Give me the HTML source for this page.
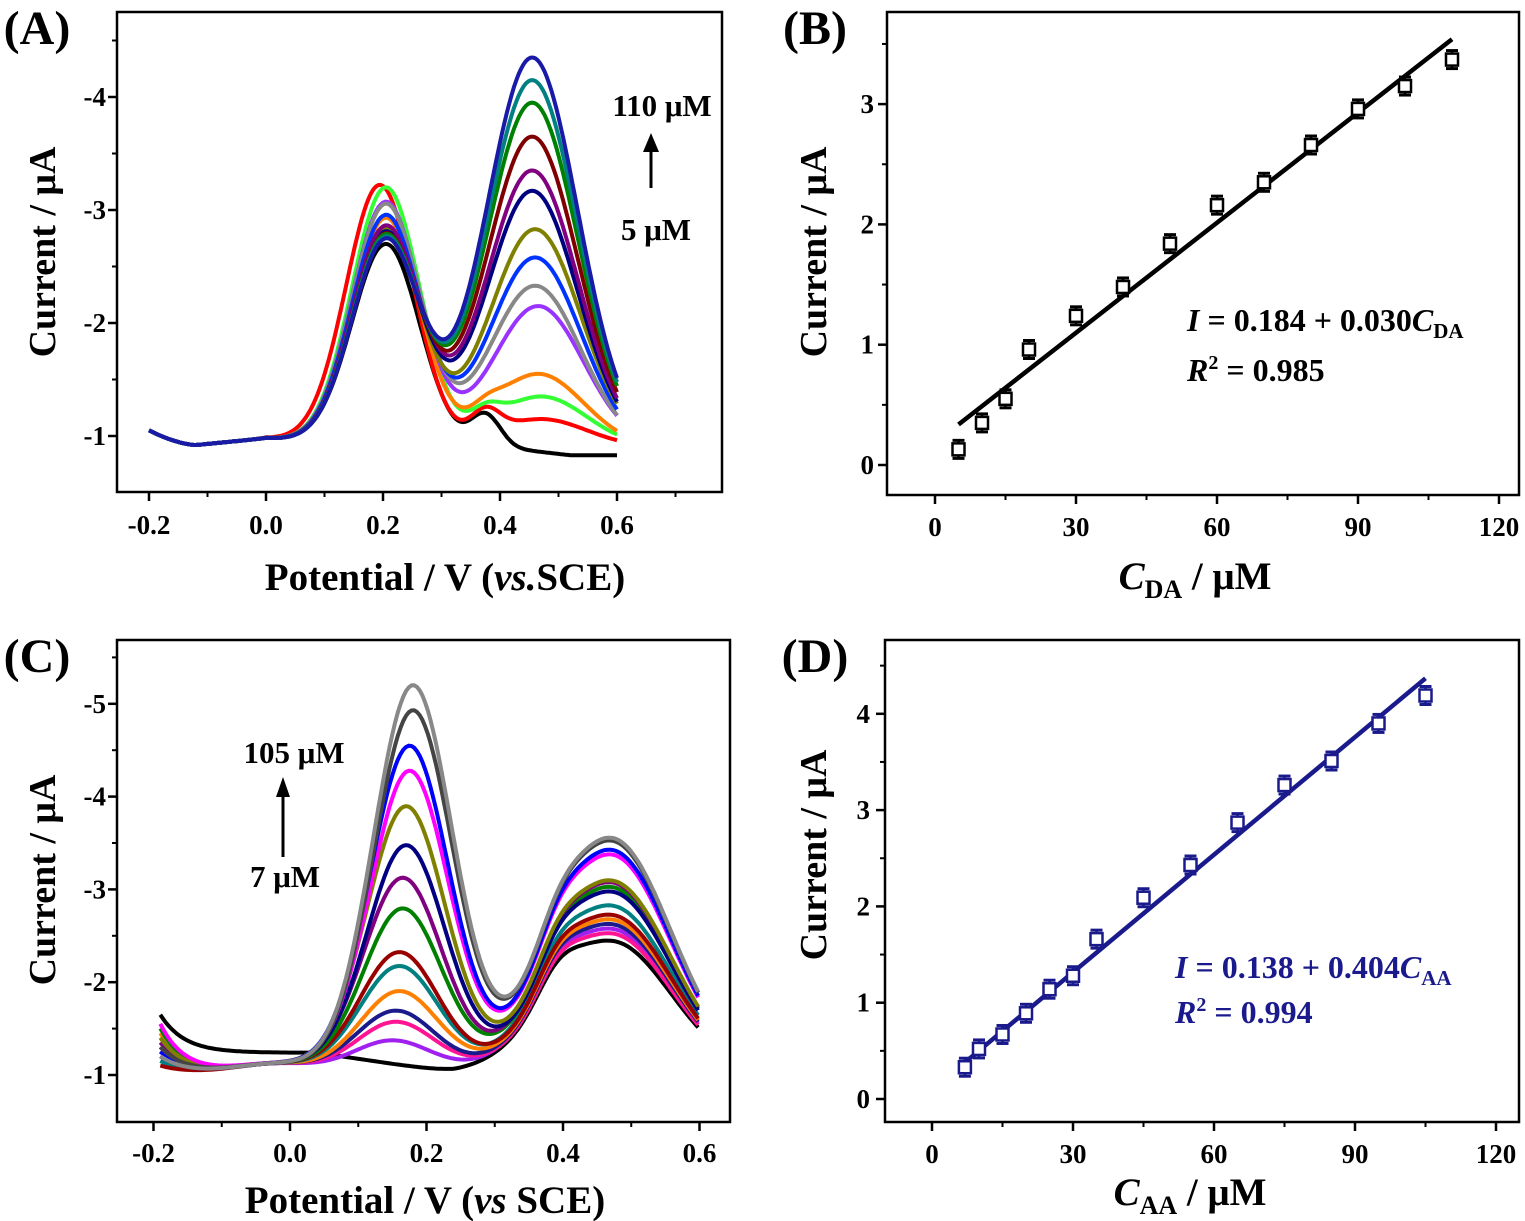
<!DOCTYPE html>
<html><head><meta charset="utf-8"><style>
body{margin:0;background:#fff}
svg{display:block;font-family:"Liberation Serif",serif;font-weight:bold}
</style></head><body>
<svg id="fig" width="1525" height="1221" viewBox="0 0 1525 1221">
<g id="gA"></g>
<g id="gB"></g>
<g id="gC"></g>
<g id="gD"></g>
</svg>
<script>
// ---------- Panel A data (DPV, DA) ----------
const aColors=["#000000","#ff0000","#33ff33","#ff8000","#9933ff","#888888","#0033ff","#808000","#000080","#800080","#800000","#008000","#008080","#1a1aa8"];
const aPeak1=[2.75,3.27,3.25,2.98,3.12,3.1,3.0,2.88,2.85,2.9,2.83,2.82,2.8,2.78];
const aPeak2=[0.9,1.15,1.35,1.55,2.15,2.33,2.58,2.83,3.17,3.35,3.65,3.95,4.15,4.35];
const aPos2=[0.47,0.47,0.47,0.465,0.465,0.46,0.46,0.46,0.455,0.455,0.455,0.455,0.455,0.455];
const aShoulder=[0.28,0.22,0.15,0.1,0,0,0,0,0,0,0,0,0,0];
const aTicksX=["-0.2","0.0","0.2","0.4","0.6"];
const aTicksY=["-1","-2","-3","-4"];
// ---------- Panel B data ----------
const bConc=[5,10,15,20,30,40,50,60,70,80,90,100,110];
const bCurr=[0.13,0.35,0.55,0.96,1.24,1.48,1.84,2.16,2.35,2.66,2.96,3.15,3.37];
const bFit=[0.184,0.0305];
const bTicksX=["0","30","60","90","120"];
const bTicksY=["0","1","2","3"];
// ---------- Panel C data (DPV, AA) ----------
const cColors=["#000000","#a020f0","#ff1493","#1a1a8c","#ff8000","#008080","#990000","#008000","#800080","#000080","#808000","#ff00ff","#0000ff","#444444","#888888"];
const cPeak1=[1.05,1.4,1.6,1.72,1.93,2.2,2.35,2.82,3.15,3.5,3.92,4.3,4.57,4.95,5.22];
const cPos1=[0.17,0.15,0.155,0.155,0.16,0.16,0.16,0.165,0.165,0.17,0.17,0.175,0.175,0.18,0.18];
const cPeak2=[2.47,2.6,2.55,2.65,2.7,2.85,2.75,3.05,3.1,3.0,3.12,3.4,3.45,3.55,3.58];
const cStart=[1.43,1.3,1.25,1.2,1.45,1.15,1.1,1.5,1.35,1.2,1.4,1.55,1.25,1.3,1.2];
const cTicksX=["-0.2","0.0","0.2","0.4","0.6"];
const cTicksY=["-1","-2","-3","-4","-5"];
// ---------- Panel D data ----------
const dConc=[7,10,15,20,25,30,35,45,55,65,75,85,95,105];
const dCurr=[0.33,0.52,0.67,0.89,1.14,1.28,1.66,2.09,2.43,2.87,3.26,3.51,3.9,4.19];
const dFit=[0.095,0.0407];
const dTicksX=["0","30","60","90","120"];
const dTicksY=["0","1","2","3","4"];

const NS="http://www.w3.org/2000/svg";
function mk(parent,tag,attrs,name){const e=document.createElementNS(NS,tag);for(const k in attrs)e.setAttribute(k,attrs[k]);


parent.appendChild(e);return e;}
function txt(parent,x,y,s,size,name,anchor,extra){const t=mk(parent,'text',Object.assign({x:x,y:y,'font-size':size,'text-anchor':anchor||'middle'},extra||{}),name);t.innerHTML=s;return t;}

function frame(g,L,T,R,B,xs,xl,ys,yl,xv,yv,xmin,ymin,tl,ty){
  mk(g,'rect',{x:L,y:T,width:R-L,height:B-T,fill:'none',stroke:'#000','stroke-width':2.5},'plot-frame');
  xv.forEach((v,i)=>{const x=xs(v);mk(g,'line',{x1:x,x2:x,y1:B,y2:B+9,stroke:'#000','stroke-width':2.5},'x-tick');
    txt(g,x,ty,xl[i],27,'x-tick-label');});
  xmin.forEach(v=>{const x=xs(v);mk(g,'line',{x1:x,x2:x,y1:B,y2:B+5,stroke:'#000','stroke-width':2},'x-minor-tick');});
  yv.forEach((v,i)=>{const y=ys(v);mk(g,'line',{x1:L-9,x2:L,y1:y,y2:y,stroke:'#000','stroke-width':2.5},'y-tick');
    txt(g,tl,y+9,yl[i],27,'y-tick-label','end');});
  ymin.forEach(v=>{const y=ys(v);mk(g,'line',{x1:L-5,x2:L,y1:y,y2:y,stroke:'#000','stroke-width':2},'y-minor-tick');});
}
const gauss=(E,m,s)=>Math.exp(-((E-m)*(E-m))/(2*s*s));

// ---------- Panel A ----------
(function(){
const g=document.getElementById('gA');
const xs=E=>266+E*585, ys=v=>436-(v-1)*113;
txt(g,37,44,'(A)',48,'panel-label-a');
frame(g,117,12,722,492,xs,aTicksX,ys,aTicksY,[-0.2,0,0.2,0.4,0.6],[1,2,3,4],[-0.1,0.1,0.3,0.5,0.7],[1.5,2.5,3.5,4.5],106,534);
function base(E){if(E<-0.12)return 0.92+0.13*((-0.12-E)/0.08)**1.6; if(E<0)return 0.92+0.06*(E+0.12)/0.12; return 0.98-0.08*Math.min(1,E/0.2);}
aColors.forEach((c,i)=>{let d='';
  for(let E=-0.2;E<=0.6001;E+=0.004){const b=base(E);
    const v=b+(aPeak1[i]-0.95)*gauss(E,0.2+(i==1?-0.005:0.005),0.058)+(aPeak2[i]-0.9)*gauss(E,aPos2[i],0.078)+aShoulder[i]*gauss(E,0.375,0.025)+(i==0?-0.07*Math.min(1,Math.max(0,(E-0.4)/0.12)):0);
    d+=(d?'L':'M')+xs(E).toFixed(1)+','+ys(v).toFixed(1);}
  mk(g,'path',{d:d,fill:'none',stroke:c,'stroke-width':4},'dpv-curve-a-'+i);
});
txt(g,662,116,'110 μM',31,'annotation-high');
txt(g,656,240,'5 μM',31,'annotation-low');
mk(g,'line',{x1:651,y1:188,x2:651,y2:150,stroke:'#000','stroke-width':3},'arrow-shaft');
mk(g,'path',{d:'M643,152 L651,133 L659,152 Z',fill:'#000'},'arrow-head');
txt(g,445,590,'Potential / V (<tspan font-style="italic">vs.</tspan>SCE)',39,'x-axis-title');
const yt=txt(g,0,0,'Current / μA',38,'y-axis-title');yt.setAttribute('transform','translate(55,252) rotate(-90)');
})();

// ---------- Panel B ----------
(function(){
const g=document.getElementById('gB');
const xs=c=>935+c*4.7, ys=v=>465-v*120.3;
txt(g,815,44,'(B)',48,'panel-label-b');
frame(g,887,12,1519,495,xs,bTicksX,ys,bTicksY,[0,30,60,90,120],[0,1,2,3],[15,45,75,105],[0.5,1.5,2.5,3.5],874,536);
mk(g,'line',{x1:xs(5),y1:ys(bFit[0]+bFit[1]*5),x2:xs(110),y2:ys(bFit[0]+bFit[1]*110),stroke:'#000','stroke-width':4.5},'fit-line');
bConc.forEach((c,i)=>{const x=xs(c),y=ys(bCurr[i]);
  mk(g,'line',{x1:x,x2:x,y1:y-9,y2:y+9,stroke:'#000','stroke-width':2.5},'error-bar');
  mk(g,'line',{x1:x-6,x2:x+6,y1:y-9,y2:y-9,stroke:'#000','stroke-width':3},'error-cap');
  mk(g,'line',{x1:x-6,x2:x+6,y1:y+9,y2:y+9,stroke:'#000','stroke-width':3},'error-cap');
  mk(g,'rect',{x:x-6,y:y-6,width:12,height:12,fill:'#fff',stroke:'#000','stroke-width':2.5},'data-point');});
txt(g,1187,331,'<tspan font-style="italic">I</tspan> = 0.184 + 0.030<tspan font-style="italic">C</tspan><tspan font-size="21" dy="7">DA</tspan>',32,'equation','start');
txt(g,1187,381,'<tspan font-style="italic">R</tspan><tspan font-size="20" dy="-12">2</tspan><tspan dy="12"> = 0.985</tspan>',32,'r-squared','start');
txt(g,1195,589,'<tspan font-style="italic">C</tspan><tspan font-size="26" dy="9">DA</tspan><tspan dy="-9"> / μM</tspan>',39,'x-axis-title');
const yt=txt(g,0,0,'Current / μA',38,'y-axis-title');yt.setAttribute('transform','translate(826,252) rotate(-90)');
})();

// ---------- Panel C ----------
(function(){
const g=document.getElementById('gC');
const xs=E=>290+E*682.5, ys=v=>1075-(v-1)*92.8;
txt(g,37,672,'(C)',48,'panel-label-c');
frame(g,117,640,730,1122,xs,cTicksX,ys,cTicksY,[-0.2,0,0.2,0.4,0.6],[1,2,3,4,5],[-0.1,0.1,0.3,0.5],[1.5,2.5,3.5,4.5,5.5],106,1162);
cColors.forEach((c,i)=>{let d='';
  for(let E=-0.19;E<=0.6001;E+=0.004){
    let b=1.02+(cStart[i]-1.02)*Math.exp(-(E+0.19)/0.035);
    if(i==0) b+=(E<0.04?0.22:Math.max(0,0.22*(1-(E-0.04)/0.2)));
    else b+=0.1*gauss(E,-0.02,0.06);
    const v=b+(cPeak1[i]-1.05)*gauss(E,cPos1[i],0.058)+(cPeak2[i]-1.05)*gauss(E,0.47,0.088)+0.25*gauss(E,0.39,0.03);
    d+=(d?'L':'M')+xs(E).toFixed(1)+','+ys(v).toFixed(1);}
  mk(g,'path',{d:d,fill:'none',stroke:c,'stroke-width':4},'dpv-curve-c-'+i);
});
txt(g,294,763,'105 μM',31,'annotation-high');
txt(g,285,887,'7 μM',31,'annotation-low');
mk(g,'line',{x1:283,y1:857,x2:283,y2:795,stroke:'#000','stroke-width':3},'arrow-shaft');
mk(g,'path',{d:'M276,797 L283,777 L290,797 Z',fill:'#000'},'arrow-head');
txt(g,425,1213,'Potential / V (<tspan font-style="italic">vs</tspan> SCE)',39,'x-axis-title');
const yt=txt(g,0,0,'Current / μA',38,'y-axis-title');yt.setAttribute('transform','translate(55,880) rotate(-90)');
})();

// ---------- Panel D ----------
(function(){
const g=document.getElementById('gD');
const xs=c=>932+c*4.7, ys=v=>1099-v*96.3;
txt(g,815,672,'(D)',48,'panel-label-d');
frame(g,885,640,1519,1122,xs,dTicksX,ys,dTicksY,[0,30,60,90,120],[0,1,2,3,4],[15,45,75,105],[0.5,1.5,2.5,3.5,4.5],870,1163);
const nv='#1a1a8c';
mk(g,'line',{x1:xs(7),y1:ys(dFit[0]+dFit[1]*7),x2:xs(105),y2:ys(dFit[0]+dFit[1]*105),stroke:nv,'stroke-width':4.5},'fit-line');
dConc.forEach((c,i)=>{const x=xs(c),y=ys(dCurr[i]);
  mk(g,'line',{x1:x,x2:x,y1:y-9,y2:y+9,stroke:nv,'stroke-width':2.5},'error-bar');
  mk(g,'line',{x1:x-6,x2:x+6,y1:y-9,y2:y-9,stroke:nv,'stroke-width':3},'error-cap');
  mk(g,'line',{x1:x-6,x2:x+6,y1:y+9,y2:y+9,stroke:nv,'stroke-width':3},'error-cap');
  mk(g,'rect',{x:x-6,y:y-6,width:12,height:12,fill:'#fff',stroke:nv,'stroke-width':2.5},'data-point');});
txt(g,1175,978,'<tspan font-style="italic">I</tspan> = 0.138 + 0.404<tspan font-style="italic">C</tspan><tspan font-size="21" dy="7">AA</tspan>',32,'equation','start',{fill:nv});
txt(g,1175,1023,'<tspan font-style="italic">R</tspan><tspan font-size="20" dy="-12">2</tspan><tspan dy="12"> = 0.994</tspan>',32,'r-squared','start',{fill:nv});
txt(g,1190,1205,'<tspan font-style="italic">C</tspan><tspan font-size="26" dy="9">AA</tspan><tspan dy="-9"> / μM</tspan>',39,'x-axis-title');
const yt=txt(g,0,0,'Current / μA',38,'y-axis-title');yt.setAttribute('transform','translate(826,855) rotate(-90)');
})();
</script>
</body></html>
